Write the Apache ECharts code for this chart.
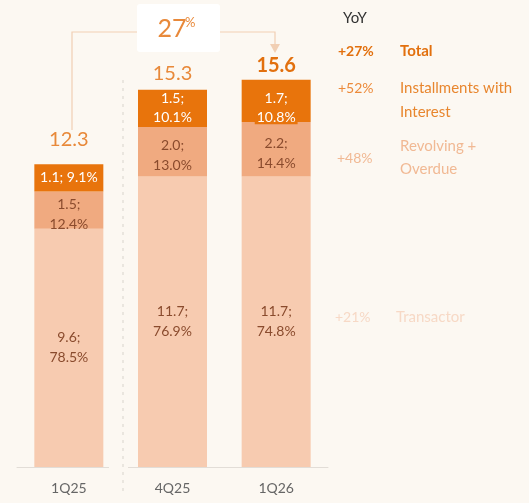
<!DOCTYPE html>
<html>
<head>
<meta charset="utf-8">
<script src="https://cdn.jsdelivr.net/npm/echarts@6/dist/echarts.min.js"></script>
<style>
html, body { margin: 0; padding: 0; background: #fcf8f2; }
#main { width: 529px; height: 503px; }
</style>
</head>
<body>
<div id="main"></div>
<script>
var categories = ['1Q25', '4Q25', '1Q26']
var transactor = [9.6, 11.7, 11.7]
var transactor_pct = ['78.5%', '76.9%', '74.8%']
var revolving = [1.5, 2.0, 2.2]
var revolving_pct = ['12.4%', '13.0%', '14.4%']
var installments = [1.1, 1.5, 1.7]
var installments_pct = ['9.1%', '10.1%', '10.8%']
var totals = [12.3, 15.3, 15.6]

var yoy_values = ['+27%', '+52%', '+48%', '+21%']
var yoy_names = ['Total', 'Installments with\nInterest', 'Revolving +\nOverdue', 'Transactor']
var growth_label = '27'

var font = 'Lato'
var dark = '#e8740c'
var mid = '#f0aa80'
var light = '#f7cbb0'
var textBrown = '#8a4b2d'

var chartDom = document.getElementById('main');
var myChart = echarts.init(chartDom);
var option;

// label text for each segment
function segLabel(vals, pcts, i) {
	return vals[i].toFixed(1) + ';\n' + pcts[i]
}

var installData = installments.map(function(v, i) {
	var item = { value: v }
	if (i === 0) {
		item.label = { formatter: v.toFixed(1) + '; ' + installments_pct[i] }
	} else if (i === 2) {
		item.label = {
			formatter: '{a|' + v.toFixed(1) + ';}\n{b|' + installments_pct[i] + '}',
			offset: [0, 7]
		}
	}
	return item
})

var totalData = totals.map(function(v, i) {
	var item = { value: v }
	if (i === 0) {
		item.label = { distance: 12 }
	} else if (i === 2) {
		item.label = { fontWeight: 'bold', color: '#e2700e' }
	}
	return item
})

option = {
	backgroundColor: '#fcf8f2',
	animation: false,
	textStyle: { fontFamily: font },
	grid: {
		left: 17,
		right: 201,
		top: 45,
		bottom: 36
	},
	xAxis: {
		type: 'category',
		data: categories,
		axisLine: { lineStyle: { color: '#e2ddd7', width: 1 } },
		axisTick: { show: false },
		axisLabel: {
			color: '#666',
			fontSize: 14,
			margin: 14,
			fontFamily: font
		}
	},
	yAxis: {
		type: 'value',
		min: 0,
		max: 17,
		show: false,
		splitLine: { show: false }
	},
	series: [{
		name: 'Transactor',
		type: 'bar',
		stack: 'loans',
		barWidth: 69,
		data: transactor,
		itemStyle: { color: light },
		label: {
			show: true,
			position: 'inside',
			color: textBrown,
			fontSize: 14,
			lineHeight: 20,
			fontFamily: font,
			formatter: function(p) {
				return segLabel(transactor, transactor_pct, p.dataIndex)
			}
		}
	}, {
		name: 'Revolving + Overdue',
		type: 'bar',
		stack: 'loans',
		data: revolving,
		itemStyle: { color: mid },
		label: {
			show: true,
			position: 'inside',
			color: textBrown,
			fontSize: 14,
			lineHeight: 20,
			offset: [0, 4],
			fontFamily: font,
			formatter: function(p) {
				return segLabel(revolving, revolving_pct, p.dataIndex)
			}
		}
	}, {
		name: 'Installments with Interest',
		type: 'bar',
		stack: 'loans',
		data: installData,
		itemStyle: { color: dark },
		label: {
			show: true,
			position: 'inside',
			color: '#fff',
			fontSize: 14,
			lineHeight: 19,
			fontFamily: font,
			formatter: function(p) {
				return segLabel(installments, installments_pct, p.dataIndex)
			},
			rich: {
				a: { color: '#fff', fontSize: 14, lineHeight: 19, fontFamily: font },
				b: { color: '#fff', fontSize: 14, lineHeight: 19, fontFamily: font, backgroundColor: dark, padding: [0, 2] }
			}
		}
	}, {
		name: 'Total',
		type: 'scatter',
		symbolSize: 0,
		data: totalData,
		itemStyle: { opacity: 1, color: '#e8893a' },
		label: {
			show: true,
			position: 'top',
			distance: 4,
			opacity: 1,
			color: '#e8893a',
			fontSize: 20,
			fontFamily: font,
			formatter: function(p) {
				return totals[p.dataIndex].toFixed(1)
			}
		}
	}],
	graphic: [
		// dotted divider between 1Q25 and 4Q25
		{
			type: 'rect', shape: { x: 109, y: 464, width: 19, height: 6 },
			style: { fill: '#fcf8f2' }, z: 10
		},
		{
			type: 'line', shape: { x1: 123, y1: 80, x2: 123, y2: 496 },
			style: { stroke: '#e4dfd9', lineWidth: 1.5, lineDash: [3, 5] }, z: 11
		},
		// growth bracket
		{
			type: 'polyline', shape: { points: [[72, 130], [72, 32], [137, 32]] },
			style: { stroke: '#f1cfb4', lineWidth: 1.2, fill: null }
		},
		{
			type: 'polyline', shape: { points: [[220, 32], [275, 32], [275, 46]] },
			style: { stroke: '#f1cfb4', lineWidth: 1.2, fill: null }
		},
		{
			type: 'polygon', shape: { points: [[270, 44], [280, 44], [275, 53]] },
			style: { fill: '#f1cfb4' }
		},
		{
			type: 'rect', shape: { x: 137, y: 4, width: 83, height: 48, r: 3 },
			style: { fill: '#ffffff' }
		},
		{
			type: 'text', x: 172, y: 29,
			style: { text: growth_label, font: '25px ' + font, fill: '#e8893a', align: 'center', verticalAlign: 'middle' }
		},
		{
			type: 'text', x: 185, y: 23,
			style: { text: '%', font: '13px ' + font, fill: '#e8893a', align: 'left', verticalAlign: 'middle' }
		},
		// YoY legend
		{
			type: 'text', x: 343, y: 18,
			style: { text: 'YoY', font: '15px ' + font, fill: '#333', verticalAlign: 'middle' }
		},
		{
			type: 'text', x: 338, y: 51,
			style: { text: yoy_values[0], font: 'bold 14px ' + font, fill: '#e2700e', verticalAlign: 'middle' }
		},
		{
			type: 'text', x: 400, y: 51,
			style: { text: yoy_names[0], font: 'bold 15px ' + font, fill: '#e2700e', verticalAlign: 'middle' }
		},
		{
			type: 'text', x: 338, y: 88,
			style: { text: yoy_values[1], font: '14px ' + font, fill: '#ec8a3a', verticalAlign: 'middle' }
		},
		{
			type: 'text', x: 400, y: 100,
			style: { text: yoy_names[1], font: '15px ' + font, fill: '#e8862e', verticalAlign: 'middle', lineHeight: 24 }
		},
		{
			type: 'text', x: 337, y: 158,
			style: { text: yoy_values[2], font: '14px ' + font, fill: '#f1b994', verticalAlign: 'middle' }
		},
		{
			type: 'text', x: 400, y: 158,
			style: { text: yoy_names[2], font: '15px ' + font, fill: '#f1b994', verticalAlign: 'middle', lineHeight: 23 }
		},
		{
			type: 'text', x: 335, y: 317,
			style: { text: yoy_values[3], font: '14px ' + font, fill: '#f7d9c6', verticalAlign: 'middle' }
		},
		{
			type: 'text', x: 396, y: 317,
			style: { text: yoy_names[3], font: '15px ' + font, fill: '#f7d9c6', verticalAlign: 'middle' }
		}
	]
};

myChart.setOption(option)
</script>
</body>
</html>
